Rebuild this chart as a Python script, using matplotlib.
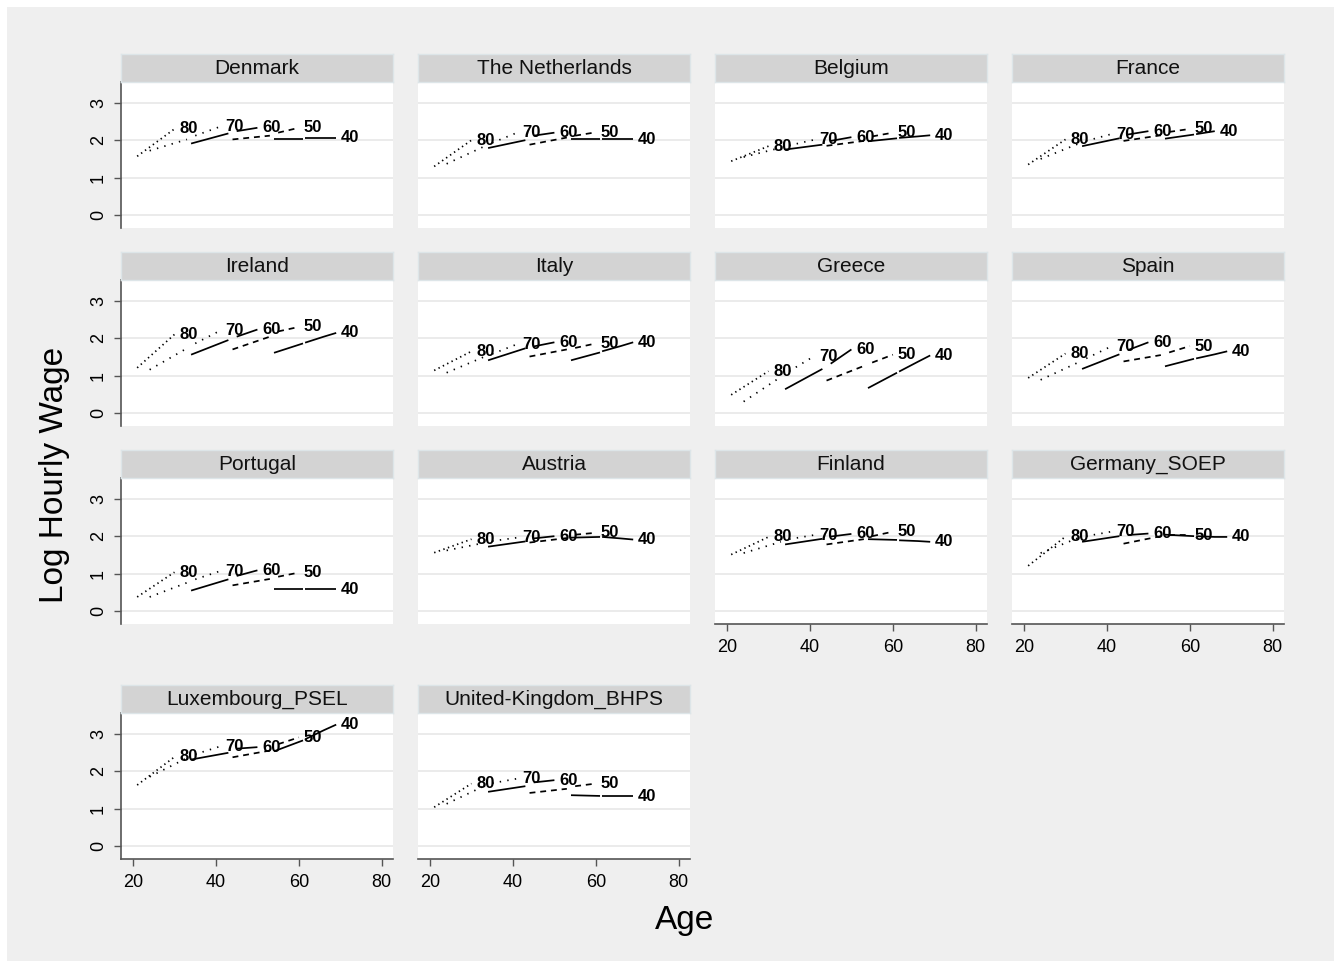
import matplotlib.pyplot as plt
import numpy as np
from matplotlib.patches import Rectangle

plt.rcParams['font.family'] = ['Liberation Sans', 'DejaVu Sans']

countries = ["Denmark", "The Netherlands", "Belgium", "France",
             "Ireland", "Italy", "Greece", "Spain",
             "Portugal", "Austria", "Finland", "Germany_SOEP",
             "Luxembourg_PSEL", "United-Kingdom_BHPS"]

# ages at which each birth cohort is observed (two survey waves each)
age_80 = [21, 30]
age_70 = [24, 33, 35, 41]
age_60 = [34, 43, 45, 50]
age_50 = [44, 53, 55, 60]
age_40 = [54, 61, 61.5, 66, 69]

# mean log hourly wage by country (same order as countries)
wage_80 = [[1.57, 2.30], [1.30, 2.00], [1.44, 1.84], [1.35, 2.02],
           [1.21, 2.10], [1.14, 1.65], [0.49, 1.12], [0.94, 1.59],
           [0.38, 1.04], [1.56, 1.92], [1.51, 1.98], [1.21, 1.99],
           [1.63, 2.38], [1.04, 1.67]]
wage_70 = [[1.72, 2.02, 2.12, 2.36], [1.37, 1.83, 1.93, 2.20],
           [1.55, 1.80, 1.86, 2.01], [1.50, 1.90, 1.98, 2.16],
           [1.16, 1.73, 1.86, 2.20], [1.08, 1.50, 1.58, 1.84],
           [0.31, 0.97, 1.12, 1.52], [0.89, 1.35, 1.46, 1.78],
           [0.38, 0.76, 0.85, 1.07], [1.62, 1.82, 1.87, 1.96],
           [1.55, 1.85, 1.92, 2.03], [1.55, 1.95, 2.00, 2.12],
           [1.85, 2.35, 2.45, 2.66], [1.13, 1.60, 1.68, 1.80]]
wage_60 = [[1.91, 2.18, 2.24, 2.33], [1.79, 2.00, 2.12, 2.20],
           [1.75, 1.88, 1.98, 2.08], [1.84, 2.05, 2.15, 2.24],
           [1.56, 1.95, 2.04, 2.23], [1.41, 1.73, 1.78, 1.89],
           [0.64, 1.18, 1.32, 1.70], [1.18, 1.57, 1.68, 1.89],
           [0.55, 0.85, 0.94, 1.09], [1.72, 1.86, 1.94, 2.00],
           [1.78, 1.93, 1.99, 2.06], [1.85, 2.00, 2.03, 2.07],
           [2.31, 2.49, 2.60, 2.64], [1.45, 1.60, 1.70, 1.76]]
wage_50 = [[2.02, 2.12, 2.20, 2.33], [1.88, 2.07, 2.12, 2.21],
           [1.85, 1.98, 2.10, 2.20], [1.98, 2.13, 2.22, 2.30],
           [1.70, 2.04, 2.18, 2.30], [1.51, 1.70, 1.74, 1.86],
           [0.87, 1.26, 1.35, 1.56], [1.38, 1.55, 1.62, 1.79],
           [0.69, 0.86, 0.92, 1.03], [1.83, 1.95, 2.04, 2.09],
           [1.78, 1.92, 2.00, 2.12], [1.80, 2.00, 2.02, 2.02],
           [2.37, 2.55, 2.72, 2.90], [1.42, 1.53, 1.60, 1.67]]
wage_40 = [[2.04, 2.04, 2.06, 2.06, 2.06], [2.03, 2.03, 2.03, 2.03, 2.03],
           [1.97, 2.05, 2.06, 2.10, 2.13], [2.04, 2.15, 2.16, 2.24, np.nan],
           [1.61, 1.86, 1.88, 2.04, 2.14], [1.41, 1.62, 1.65, 1.79, 1.89],
           [0.67, 1.08, 1.11, 1.37, 1.54], [1.25, 1.45, 1.46, 1.57, 1.65],
           [0.60, 0.60, 0.58, 0.58, 0.58], [1.96, 1.98, 1.98, 1.94, 1.91],
           [1.92, 1.90, 1.89, 1.87, 1.85], [2.04, 2.00, 2.00, 1.98, 1.98],
           [2.53, 2.82, 2.85, 3.09, 3.24], [1.36, 1.34, 1.33, 1.33, 1.33]]

# label, ages, wages, dash pattern (None = solid), number of waves
cohorts = [("80", age_80, wage_80, (0.8, 2.0), 1),
           ("70", age_70, wage_70, (0.8, 3.6), 2),
           ("60", age_60, wage_60, None, 2),
           ("50", age_50, wage_50, (3.4, 2.8), 2),
           ("40", age_40, wage_40, None, 2)]

W, H = 1341, 968
fig = plt.figure(figsize=(W / 100, H / 100), dpi=100)
fig.patch.set_facecolor("white")
fig.patches.append(Rectangle((7 / W, 7 / H), (W - 14) / W, (H - 14) / H,
                             transform=fig.transFigure, facecolor="#efefef",
                             edgecolor="none", zorder=-10))

col_left = [121, 418, 715, 1012]
row_top = [82, 280, 478, 713]
pw, ph, sh = 272, 146, 28
xaxis_panels = {10, 11, 12, 13}

for i, name in enumerate(countries):
    r, c = divmod(i, 4)
    x0, y0 = col_left[c], row_top[r]
    ax = fig.add_axes([x0 / W, 1 - (y0 + ph) / H, pw / W, ph / H])
    st = fig.add_axes([x0 / W, 1 - y0 / H, pw / W, sh / H])
    st.set_facecolor("#d3d3d3")
    st.set_xticks([])
    st.set_yticks([])
    for s in st.spines.values():
        s.set_color("#dde5e8")
        s.set_linewidth(1)
    st.text(0.5, 0.48, name, ha="center", va="center", fontsize=15,
            color="#111111", transform=st.transAxes)

    ax.set_facecolor("white")
    ax.set_xlim(17.1, 82.7)
    ax.set_ylim(-0.34, 3.55)
    for v in [0, 1, 2, 3]:
        ax.axhline(v, color="#e6e6e6", lw=1.1, zorder=0)

    for lab, ages, wages, dash, nseg in cohorts:
        a = np.array(ages, dtype=float)
        w = np.array(wages[i], dtype=float)
        parts = [(0, len(a))] if nseg == 1 else [(0, 2), (2, len(a))]
        for s0, s1 in parts:
            ln, = ax.plot(a[s0:s1], w[s0:s1], color="black", lw=1.25,
                          solid_capstyle="butt")
            if dash is not None:
                ln.set_dashes(dash)
        ok = ~np.isnan(w)
        ax.annotate(lab, (a[ok][-1], w[ok][-1]), xytext=(3.5, 0),
                    textcoords="offset points", ha="left", va="center",
                    fontsize=12, fontweight="bold", color="black")

    for s in ax.spines.values():
        s.set_visible(False)
    if c == 0:
        ax.spines["left"].set_visible(True)
        ax.spines["left"].set_color("#555555")
        ax.spines["left"].set_linewidth(1.2)
        ax.set_yticks([0, 1, 2, 3])
        ax.tick_params(axis="y", length=5, width=1, color="#555555",
                       labelsize=13, pad=5)
        for t in ax.get_yticklabels():
            t.set_rotation(90)
            t.set_va("center")
    else:
        ax.set_yticks([])
    if i in xaxis_panels:
        ax.spines["bottom"].set_visible(True)
        ax.spines["bottom"].set_color("#555555")
        ax.spines["bottom"].set_linewidth(1.2)
        ax.set_xticks([20, 40, 60, 80])
        ax.tick_params(axis="x", length=5, width=1, color="#555555",
                       labelsize=13, pad=6)
    else:
        ax.set_xticks([])

fig.text(55 / W, 1 - 475 / H, "Log Hourly Wage", rotation=90, ha="center",
         va="center", fontsize=24)
fig.text(685 / W, 1 - 920 / H, "Age", ha="center", va="center", fontsize=24)

fig.savefig("out.png", dpi=100, facecolor=fig.get_facecolor())
